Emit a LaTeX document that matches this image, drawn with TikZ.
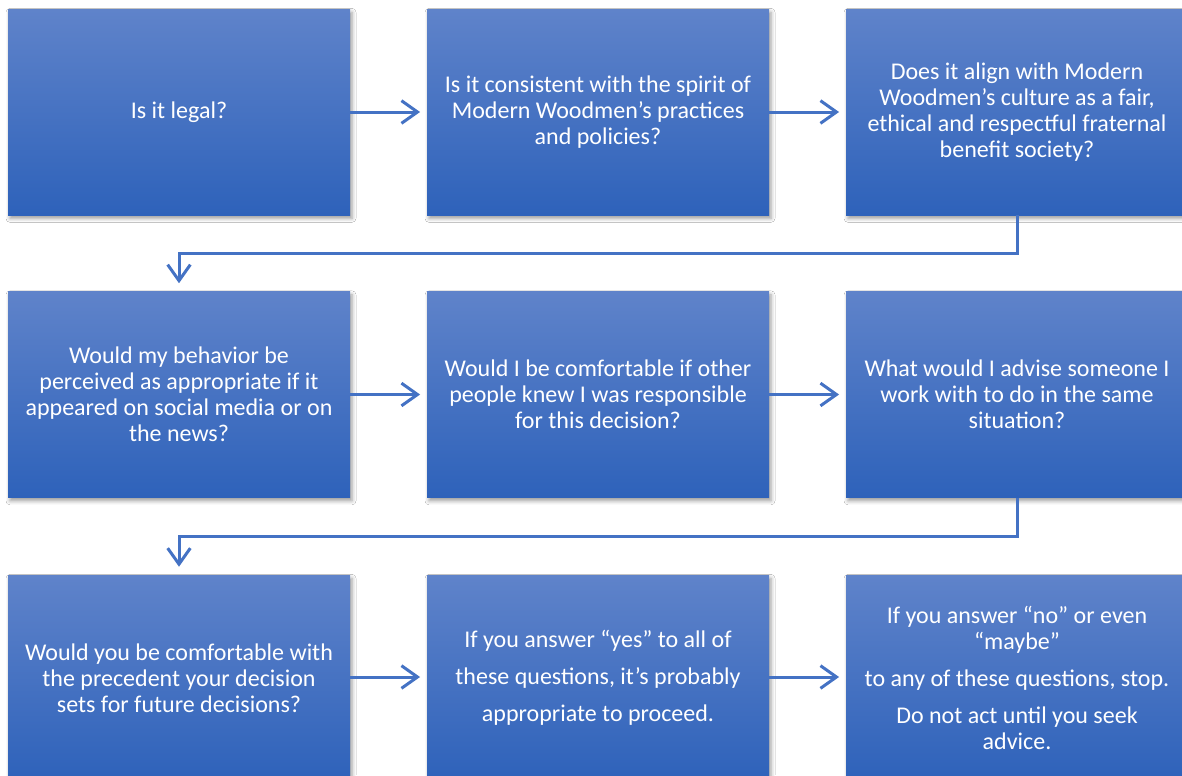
\documentclass[tikz,border=0pt]{standalone}
\usepackage{fontspec}
\setmainfont{Carlito}
\usetikzlibrary{shadows.blur,arrows.meta,calc}
\definecolor{boxtop}{HTML}{5F83CA}
\definecolor{boxbot}{HTML}{2E62BA}
\definecolor{arrowblue}{HTML}{4472C4}
\begin{document}
\begin{tikzpicture}[x=0.75pt,y=-0.75pt,
  qbox/.style={rectangle, minimum width=256.5pt, minimum height=154.5pt,
    top color=boxtop, bottom color=boxbot, draw=none, text=white,
    align=center, inner sep=0pt, font=\fontsize{18}{19.5}\selectfont,
    blur shadow={shadow xshift=1.5pt, shadow yshift=-2.5pt, shadow blur radius=3pt, shadow opacity=40}},
  conn/.style={draw=arrowblue, line width=2.25pt, -{Straight Barb[length=12pt,width=17pt]}, shorten >=5pt},
  elbow/.style={draw=arrowblue, line width=2.25pt, -{Straight Barb[length=12pt,width=17pt]}, shorten >=6pt}
]
\useasboundingbox (0,0) rectangle (1182,775);
\clip (0,0) rectangle (1182,775);
\fill[white] (0,0) rectangle (1182,775);

\node[qbox] (b11) at (179,112) {Is it legal?};
\node[qbox] (b12) at (598,112) {Is it consistent with the spirit of\\ Modern Woodmen’s practices\\ and policies?};
\node[qbox] (b13) at (1017,112) {Does it align with Modern\\ Woodmen’s culture as a fair,\\ ethical and respectful fraternal\\ benefit society?};

\node[qbox] (b21) at (179,394.5) {Would my behavior be\\ perceived as appropriate if it\\ appeared on social media or on\\ the news?};
\node[qbox] (b22) at (598,394.5) {Would I be comfortable if other\\ people knew I was responsible\\ for this decision?};
\node[qbox] (b23) at (1017,394.5) {What would I advise someone I\\ work with to do in the same\\ situation?};

\node[qbox] (b31) at (179,678) {Would you be comfortable with\\ the precedent your decision\\ sets for future decisions?};
\node[qbox, font=\fontsize{18}{27.75}\selectfont] (b32) at (598,678) {If you answer “yes” to all of\\ these questions, it’s probably\\ appropriate to proceed.};
\node[qbox] (b33) at (1017,678) {If you answer “no” or even\\ “maybe”\\[8.25pt] to any of these questions, stop.\\[8.25pt] Do not act until you seek\\ advice.};

\draw[conn] (b11.east) -- (b12.west);
\draw[conn] (b12.east) -- (b13.west);
\draw[conn] (b21.east) -- (b22.west);
\draw[conn] (b22.east) -- (b23.west);
\draw[conn] ($(b31.east)+(0,-1)$) -- ($(b32.west)+(0,-1)$);
\draw[conn] ($(b32.east)+(0,-1)$) -- ($(b33.west)+(0,-1)$);

\draw[elbow] (b13.south) -- ++(0,38) -| (b21.north);
\draw[elbow] (b23.south) -- ++(0,39) -| (b31.north);
\end{tikzpicture}
\end{document}
